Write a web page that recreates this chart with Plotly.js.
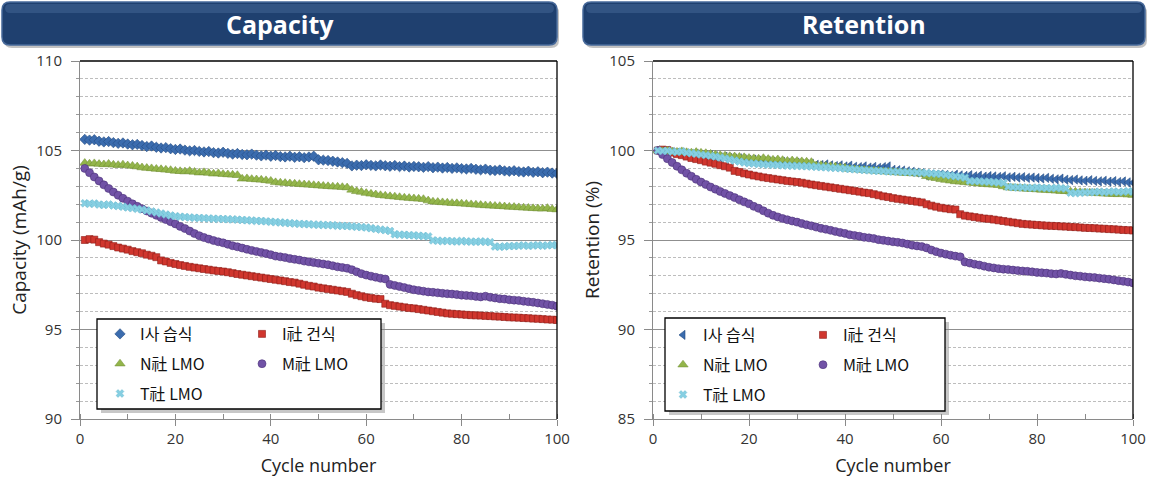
<!DOCTYPE html>
<html>
<head>
<meta charset="utf-8">
<script src="https://cdn.plot.ly/plotly-3.0.1.min.js"></script>
<style>
  html, body { margin: 0; padding: 0; background: #ffffff; }
  #chart { width: 1149px; height: 486px; }
</style>
</head>
<body>
<div id="chart"></div>
<script>
// ---------------- DATA ----------------
const cycles = Array.from({length: 100}, (_, i) => i + 1);

const seriesNames = ["I사 습식", "I社 건식", "N社 LMO", "M社 LMO", "T社 LMO"];

// Discharge capacity (mAh/g) per cycle, cycles 1..100
const capI_wet = [
  105.62,105.58,105.60,105.52,105.48,105.50,105.44,105.40,105.42,105.36,
  105.32,105.34,105.28,105.22,105.25,105.18,105.14,105.16,105.10,105.06,
  105.08,105.02,104.98,105.00,104.95,104.92,104.94,104.88,104.86,104.90,
  104.84,104.80,104.83,104.78,104.76,104.80,104.74,104.70,104.74,104.68,
  104.72,104.66,104.64,104.68,104.62,104.65,104.60,104.64,104.68,104.48,
  104.46,104.44,104.40,104.36,104.32,104.28,104.14,104.18,104.16,104.20,
  104.17,104.14,104.19,104.15,104.12,104.16,104.10,104.13,104.08,104.11,
  104.09,104.06,104.10,104.04,104.07,104.02,104.05,104.00,104.03,103.99,
  103.97,104.00,103.95,103.92,103.96,103.90,103.88,103.91,103.86,103.84,
  103.87,103.82,103.80,103.84,103.78,103.81,103.76,103.79,103.74,103.72
];
const capI_dry = [
  100.00,100.05,100.02,99.88,99.80,99.74,99.66,99.58,99.52,99.46,
  99.38,99.32,99.26,99.18,99.12,99.04,98.86,98.80,98.72,98.66,
  98.60,98.55,98.50,98.46,98.42,98.38,98.34,98.30,98.27,98.24,
  98.20,98.15,98.10,98.06,98.02,97.98,97.94,97.90,97.86,97.82,
  97.78,97.74,97.70,97.65,97.62,97.56,97.50,97.44,97.40,97.34,
  97.30,97.26,97.22,97.18,97.14,97.10,97.00,96.92,96.86,96.80,
  96.76,96.72,96.70,96.44,96.36,96.32,96.28,96.24,96.20,96.18,
  96.14,96.10,96.06,96.02,95.98,95.94,95.90,95.88,95.86,95.84,
  95.82,95.80,95.79,95.78,95.76,95.75,95.73,95.72,95.70,95.68,
  95.67,95.66,95.64,95.63,95.61,95.60,95.58,95.56,95.55,95.53
];
const capN_LMO = [
  104.30,104.26,104.28,104.24,104.22,104.25,104.20,104.18,104.21,104.16,
  104.14,104.10,104.05,104.02,104.00,103.97,103.95,103.92,103.90,103.86,
  103.84,103.82,103.85,103.80,103.76,103.78,103.74,103.70,103.72,103.68,
  103.66,103.64,103.62,103.42,103.44,103.40,103.38,103.36,103.33,103.30,
  103.22,103.20,103.18,103.16,103.14,103.12,103.10,103.08,103.06,103.04,
  103.02,103.00,102.98,102.97,102.95,102.93,102.80,102.72,102.68,102.62,
  102.58,102.54,102.50,102.47,102.44,102.42,102.39,102.36,102.34,102.32,
  102.30,102.28,102.20,102.14,102.12,102.10,102.08,102.06,102.05,102.03,
  102.01,101.99,101.97,101.95,101.93,101.92,101.90,101.89,101.87,101.85,
  101.84,101.82,101.80,101.79,101.77,101.76,101.74,101.78,101.72,101.70
];
const capM_LMO = [
  104.00,103.76,103.52,103.30,103.08,102.88,102.68,102.50,102.33,102.17,
  102.02,101.88,101.75,101.62,101.50,101.38,101.26,101.14,101.02,100.90,
  100.76,100.64,100.50,100.36,100.24,100.14,100.05,99.97,99.90,99.84,
  99.76,99.68,99.62,99.55,99.48,99.42,99.36,99.30,99.24,99.18,
  99.10,99.06,99.02,98.96,98.92,98.88,98.82,98.78,98.74,98.70,
  98.66,98.62,98.56,98.50,98.46,98.42,98.34,98.22,98.12,98.04,
  97.98,97.92,97.86,97.82,97.52,97.46,97.40,97.34,97.28,97.22,
  97.18,97.14,97.10,97.08,97.05,97.02,97.00,96.98,96.95,96.92,
  96.90,96.88,96.85,96.82,96.86,96.80,96.76,96.72,96.70,96.66,
  96.64,96.62,96.58,96.55,96.52,96.48,96.44,96.40,96.36,96.30
];
const capT_LMO = [
  102.05,102.02,102.04,101.98,101.96,101.99,101.93,101.90,101.86,101.82,
  101.78,101.74,101.70,101.65,101.60,101.54,101.48,101.42,101.37,101.33,
  101.30,101.28,101.26,101.24,101.23,101.22,101.20,101.19,101.18,101.17,
  101.16,101.15,101.14,101.12,101.10,101.09,101.07,101.06,101.04,101.02,
  101.00,100.98,100.96,100.94,100.92,100.90,100.89,100.88,100.86,100.85,
  100.84,100.83,100.82,100.80,100.79,100.78,100.76,100.74,100.72,100.70,
  100.66,100.62,100.58,100.55,100.50,100.32,100.30,100.29,100.27,100.26,
  100.24,100.22,100.20,99.98,99.96,99.94,99.95,99.93,99.92,99.94,
  99.92,99.91,99.90,99.92,99.90,99.88,99.64,99.62,99.64,99.66,
  99.66,99.68,99.70,99.67,99.69,99.71,99.68,99.70,99.72,99.70
];

const capTicks = [90, 95, 100, 105, 110];
const retTicks = [85, 90, 95, 100, 105];
const cycleTicks = [0, 20, 40, 60, 80, 100];

// Retention (%) = capacity relative to the first cycle
const toRetention = arr => arr.map(v => +(v / arr[0] * 100).toFixed(2));
const capacitySeries = [capI_wet, capI_dry, capN_LMO, capM_LMO, capT_LMO];
const retentionSeries = capacitySeries.map(toRetention);

// ---------------- STYLE ----------------
const W = 1149, H = 486;
const FONT_LAT = "Open Sans, Noto Sans CJK KR, sans-serif";
const FONT_KR = "Noto Sans CJK KR, Noto Sans, sans-serif";

const markerStyles = [
  {symbol: "diamond", size: 8, color: "#3b6cae", line: {color: "#234c82", width: 0.6}},
  {symbol: "square", size: 7, color: "#d0362e", line: {color: "#8e1f1a", width: 0.6}},
  {symbol: "triangle-up", size: 9, color: "#93b54a", line: {color: "#6f8c33", width: 0.5}},
  {symbol: "circle", size: 8, color: "#7152a6", line: {color: "#4b3278", width: 0.6}},
  {symbol: "x", size: 7, color: "#86cfe2", line: {color: "#5fb3c9", width: 0.4}}
];
const markerStylesRet = markerStyles.map((m, i) => i === 0 ? Object.assign({}, m, {symbol: "triangle-left"}) : m);

const legendOf = (panel, i) => {
  // column 1: series 0,2,4 ; column 2: series 1,3
  const col = (i % 2 === 0) ? 1 : 2;
  const idx = panel === 0 ? col : col + 2;
  return idx === 1 ? "legend" : "legend" + idx;
};

const traces = [];
capacitySeries.forEach((ys, i) => {
  traces.push({
    type: "scatter", mode: "markers", x: cycles, y: ys, name: seriesNames[i],
    xaxis: "x", yaxis: "y", marker: markerStyles[i],
    legend: legendOf(0, i), legendgroup: "c" + i, cliponaxis: true
  });
});
retentionSeries.forEach((ys, i) => {
  traces.push({
    type: "scatter", mode: "markers", x: cycles, y: ys, name: seriesNames[i],
    xaxis: "x2", yaxis: "y2", marker: markerStylesRet[i],
    legend: legendOf(1, i), legendgroup: "r" + i, cliponaxis: true
  });
});

// pixel helpers (paper coords)
const fx = px => px / W;
const fy = py => 1 - py / H;
function roundRectPath(x0, y0, x1, y1, r) {
  const p = (x, y) => fx(x).toFixed(5) + "," + fy(y).toFixed(5);
  return "M" + p(x0 + r, y0) + " L" + p(x1 - r, y0) + " Q" + p(x1, y0) + " " + p(x1, y0 + r) +
    " L" + p(x1, y1 - r) + " Q" + p(x1, y1) + " " + p(x1 - r, y1) +
    " L" + p(x0 + r, y1) + " Q" + p(x0, y1) + " " + p(x0, y1 - r) +
    " L" + p(x0, y0 + r) + " Q" + p(x0, y0) + " " + p(x0 + r, y0) + " Z";
}

const plotL = {x0: 80, x1: 557, y0: 61, y1: 419};
const plotR = {x0: 653, x1: 1133, y0: 61, y1: 419};
const bannerL = {x0: 2, x1: 557, y0: 2, y1: 45};
const bannerR = {x0: 583, x1: 1145, y0: 2, y1: 45};
const legBoxL = {x0: 97, x1: 381, y0: 319, y1: 409};
const legBoxR = {x0: 665, x1: 945, y0: 318, y1: 411};

const shapes = [];
[bannerL, bannerR].forEach(b => {
  shapes.push({type: "path", xref: "paper", yref: "paper", layer: "below",
    path: roundRectPath(b.x0 + 2, b.y0 + 3, b.x1 + 2, b.y1 + 3, 8),
    fillcolor: "rgba(120,120,120,0.45)", line: {width: 0}});
  shapes.push({type: "path", xref: "paper", yref: "paper", layer: "below",
    path: roundRectPath(b.x0, b.y0, b.x1, b.y1, 8),
    fillcolor: "#1f406f", line: {color: "#47699a", width: 1.5}});
  shapes.push({type: "path", xref: "paper", yref: "paper", layer: "below",
    path: roundRectPath(b.x0 + 3, b.y0 + 2, b.x1 - 3, b.y0 + 11, 5),
    fillcolor: "rgba(120,155,205,0.22)", line: {width: 0}});
});
// plot-area black top & right borders
[["x", "y"], ["x2", "y2"]].forEach(([xa, ya]) => {
  shapes.push({type: "line", xref: xa + " domain", yref: ya + " domain", x0: 0, x1: 1, y0: 1, y1: 1,
    line: {color: "#000000", width: 1.3}, layer: "above"});
  shapes.push({type: "line", xref: xa + " domain", yref: ya + " domain", x0: 1, x1: 1, y0: 0, y1: 1,
    line: {color: "#000000", width: 1.3}, layer: "above"});
});
// legend boxes with shadow
[legBoxL, legBoxR].forEach(b => {
  shapes.push({type: "rect", xref: "paper", yref: "paper", layer: "above",
    x0: fx(b.x0 + 4), x1: fx(b.x1 + 4), y0: fy(b.y1 + 4), y1: fy(b.y0 + 4),
    fillcolor: "rgba(130,130,130,0.45)", line: {width: 0}});
  shapes.push({type: "rect", xref: "paper", yref: "paper", layer: "above",
    x0: fx(b.x0), x1: fx(b.x1), y0: fy(b.y1), y1: fy(b.y0),
    fillcolor: "#ffffff", line: {color: "#000000", width: 1.3}});
});

const annotations = [
  {text: "<b>Capacity</b>", x: fx((bannerL.x0 + bannerL.x1) / 2), y: fy(24), xref: "paper", yref: "paper",
    xanchor: "center", yanchor: "middle",
    showarrow: false, font: {family: FONT_LAT, size: 25, color: "#ffffff"}},
  {text: "<b>Retention</b>", x: fx((bannerR.x0 + bannerR.x1) / 2), y: fy(24), xref: "paper", yref: "paper",
    xanchor: "center", yanchor: "middle",
    showarrow: false, font: {family: FONT_LAT, size: 25, color: "#ffffff"}}
];

function yAxis(range, ticks, title, anchor) {
  return {
    anchor: anchor, range: range, tickvals: ticks, ticktext: ticks.map(String),
    showline: true, linecolor: "#8a8a8a", linewidth: 1,
    ticks: "outside", ticklen: 8, tickcolor: "#8a8a8a", ticklabelstandoff: 6,
    showgrid: true, gridcolor: "#8f8f8f", gridwidth: 1,
    minor: {dtick: 1, showgrid: true, gridcolor: "#bdbdbd", griddash: "3px,2px", gridwidth: 1,
      ticks: "outside", ticklen: 3, tickcolor: "#9a9a9a"},
    zeroline: false, fixedrange: true,
    tickfont: {family: FONT_LAT, size: 15, color: "#333333"},
    title: {text: title, font: {family: FONT_LAT, size: 19, color: "#222222"}, standoff: 4}
  };
}
function xAxis(domain, anchor) {
  return {
    domain: domain, anchor: anchor, range: [0, 100], tickvals: cycleTicks, ticktext: cycleTicks.map(String),
    showline: true, linecolor: "#8a8a8a", linewidth: 1,
    ticks: "outside", ticklen: 6, tickcolor: "#8a8a8a",
    showgrid: false, zeroline: false, fixedrange: true,
    minor: {dtick: 10, ticks: "inside", ticklen: 5, tickcolor: "#8a8a8a", showgrid: false},
    tickfont: {family: FONT_LAT, size: 15, color: "#333333"},
    title: {text: "Cycle number", font: {family: FONT_LAT, size: 18, color: "#222222"}, standoff: 12}
  };
}

const yDom = [fy(plotL.y1), fy(plotL.y0)];
const legendBase = {
  orientation: "v", xanchor: "left", yanchor: "top", bgcolor: "rgba(0,0,0,0)", borderwidth: 0,
  font: {family: FONT_KR, size: 16, color: "#111111"}, tracegroupgap: 6, itemsizing: "trace",
  itemclick: false, itemdoubleclick: false, traceorder: "grouped"
};

const layout = {
  width: W, height: H, margin: {l: 0, r: 0, t: 0, b: 0},
  paper_bgcolor: "#ffffff", plot_bgcolor: "#ffffff",
  showlegend: true,
  xaxis: xAxis([fx(plotL.x0), fx(plotL.x1)], "y"),
  yaxis: Object.assign(yAxis([90, 110], capTicks, "Capacity (mAh/g)", "x"), {domain: yDom}),
  xaxis2: xAxis([fx(plotR.x0), fx(plotR.x1)], "y2"),
  yaxis2: Object.assign(yAxis([85, 105], retTicks, "Retention (%)", "x2"), {domain: yDom}),
  legend: Object.assign({}, legendBase, {x: fx(100), y: fy(317)}),
  legend2: Object.assign({}, legendBase, {x: fx(242), y: fy(317)}),
  legend3: Object.assign({}, legendBase, {x: fx(663), y: fy(318)}),
  legend4: Object.assign({}, legendBase, {x: fx(803), y: fy(318)}),
  shapes: shapes,
  annotations: annotations,
  hovermode: false
};

Plotly.newPlot("chart", traces, layout, {staticPlot: true, displayModeBar: false});
</script>
</body>
</html>
